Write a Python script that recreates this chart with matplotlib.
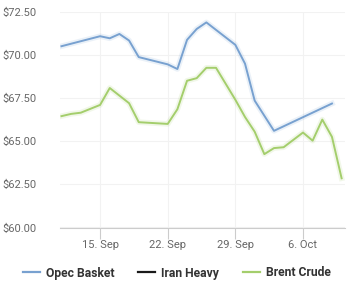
import matplotlib
matplotlib.use("Agg")
import matplotlib.pyplot as plt
import matplotlib.dates as mdates
import matplotlib.patheffects as pe
import pandas as pd

# ---- data ----
opec_dates = ["2019-09-11", "2019-09-15", "2019-09-16", "2019-09-17", "2019-09-18",
              "2019-09-19", "2019-09-22", "2019-09-23", "2019-09-24", "2019-09-25",
              "2019-09-26", "2019-09-29", "2019-09-30", "2019-10-01", "2019-10-03",
              "2019-10-09"]
opec_values = [70.50, 71.08, 70.96, 71.21, 70.83, 69.87, 69.45, 69.18, 70.87, 71.50,
               71.88, 70.58, 69.49, 67.35, 65.60, 67.18]

iran_dates = []
iran_values = []

brent_dates = ["2019-09-11", "2019-09-12", "2019-09-13", "2019-09-15", "2019-09-16",
               "2019-09-18", "2019-09-19", "2019-09-22", "2019-09-23", "2019-09-24",
               "2019-09-25", "2019-09-26", "2019-09-27", "2019-09-29", "2019-09-30",
               "2019-10-01", "2019-10-02", "2019-10-03", "2019-10-04", "2019-10-06",
               "2019-10-07", "2019-10-08", "2019-10-09", "2019-10-10"]
brent_values = [66.45, 66.58, 66.65, 67.10, 68.08, 67.20, 66.10, 66.00, 66.85, 68.50,
                68.65, 69.25, 69.25, 67.40, 66.40, 65.55, 64.25, 64.60, 64.65, 65.50,
                65.03, 66.25, 65.25, 62.85]

series_names = ["Opec Basket", "Iran Heavy", "Brent Crude"]
y_ticks = [60.0, 62.5, 65.0, 67.5, 70.0, 72.5]
x_tick_dates = ["2019-09-15", "2019-09-22", "2019-09-29", "2019-10-06"]
x_tick_labels = ["15. Sep", "22. Sep", "29. Sep", "6. Oct"]

# ---- style ----
plt.rcParams['font.family'] = ['Roboto', 'DejaVu Sans']
colors = ["#78a1d0", "#1a1a1a", "#a4ce6c"]

fig = plt.figure(figsize=(3.56, 3.0), dpi=100)
ax = fig.add_axes([60/356, 1 - 227.5/300, 285/356, (227.5 - 11.7)/300])

series = [(opec_dates, opec_values), (iran_dates, iran_values), (brent_dates, brent_values)]
for (d, v), name, c in zip(series, series_names, colors):
    ax.plot(pd.to_datetime(d), v, color=c, lw=1.4, label=name, solid_joinstyle='round',
            path_effects=[pe.Stroke(linewidth=4, foreground=c, alpha=0.15), pe.Normal()])

ax.set_ylim(60, 72.5)
ax.set_yticks(y_ticks)
ax.set_yticklabels([f"${t:.2f}" for t in y_ticks])
ax.set_xlim(pd.Timestamp("2019-09-15") - pd.Timedelta(days=4.15),
            pd.Timestamp("2019-09-15") + pd.Timedelta(days=25.35))
ax.set_xticks(pd.to_datetime(x_tick_dates))
ax.set_xticklabels(x_tick_labels)

for s in ["top", "right", "left"]:
    ax.spines[s].set_visible(False)
ax.spines["bottom"].set_color("#cccccc")
ax.spines["bottom"].set_linewidth(0.8)
ax.grid(True, color="#f2f2f2", lw=0.8)
ax.set_axisbelow(True)
ax.tick_params(axis='y', length=0, pad=17, labelsize=8, labelcolor="#666666")
ax.tick_params(axis='x', length=8, width=0.8, color="#cccccc", pad=1, labelsize=8,
               labelcolor="#666666")

leg = fig.legend(loc="center", bbox_to_anchor=(0.497, 1 - 273/300), ncol=3, frameon=False,
                 handlelength=1.4, handletextpad=0.5, columnspacing=2.0,
                 prop={'weight': 'bold', 'size': 8.7})
for t in leg.get_texts():
    t.set_color("#333333")
for h in leg.legend_handles:
    h.set_path_effects([])
    h.set_linewidth(1.6)

fig.savefig("out.png", dpi=100)
